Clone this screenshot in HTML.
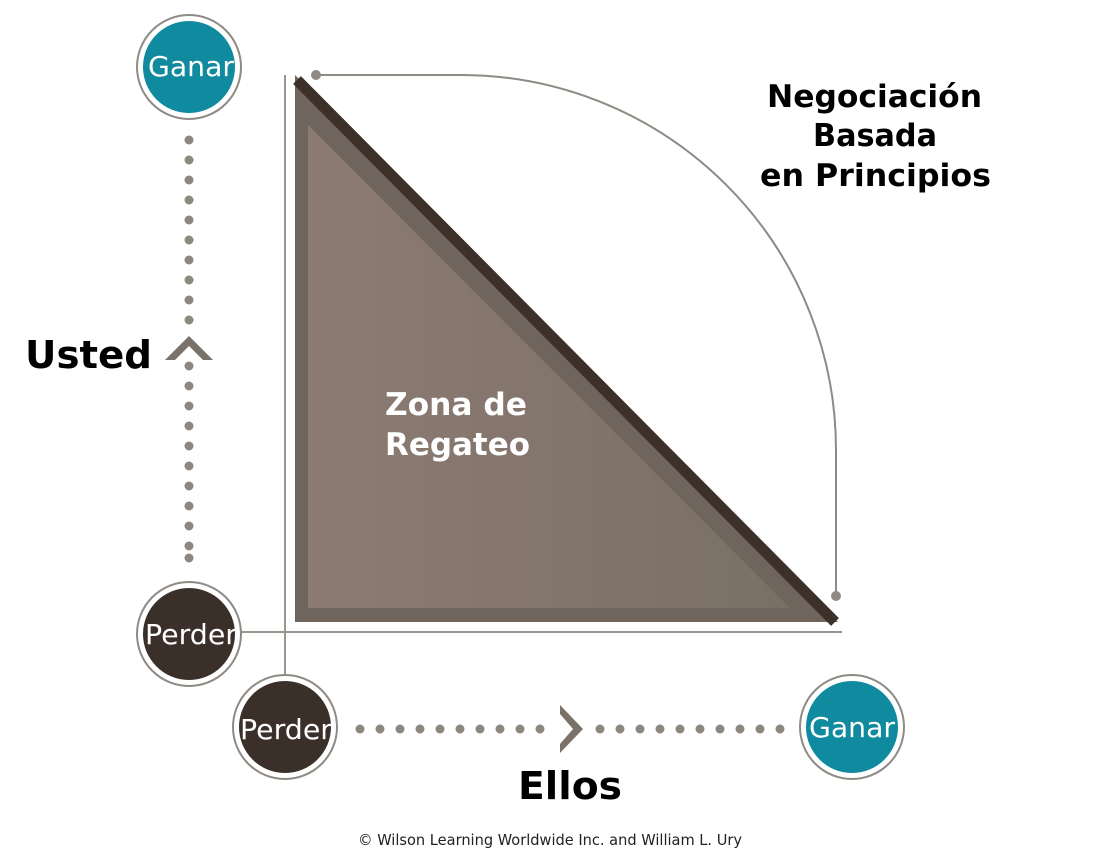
<!DOCTYPE html>
<html><head><meta charset="utf-8"><style>html,body{margin:0;padding:0;background:#fff}svg{display:block}</style></head>
<body>
<svg width="1106" height="862" viewBox="0 0 1106 862" xmlns="http://www.w3.org/2000/svg">
<defs>
<linearGradient id="g" x1="0" y1="0" x2="1" y2="0">
<stop offset="0" stop-color="#8c7b72"/><stop offset="1" stop-color="#7a7066"/>
</linearGradient>
</defs>
<line x1="285" y1="75" x2="285" y2="680" stroke="#9a958f" stroke-width="2"/>
<line x1="238" y1="632" x2="842" y2="632" stroke="#9a958f" stroke-width="2"/>
<path d="M316 75 H461 A375 375 0 0 1 836 450 V596" fill="none" stroke="#8f8a84" stroke-width="2"/>
<circle cx="316" cy="75" r="5" fill="#8f8a84"/>
<circle cx="836" cy="596" r="5" fill="#8f8a84"/>
<polygon points="295,75 295,622 838,622" fill="#6f655d"/>
<polygon points="308,125 308,608 790,608" fill="url(#g)"/>
<line x1="297" y1="80" x2="835" y2="622" stroke="#3d3028" stroke-width="11"/>
<g font-family="DejaVu Sans, Verdana, sans-serif" font-weight="bold" font-size="31" fill="#fff">
<text x="385" y="415" textLength="142" lengthAdjust="spacingAndGlyphs">Zona de</text>
<text x="385" y="455" textLength="145" lengthAdjust="spacingAndGlyphs">Regateo</text>
</g>
<g fill="#8d877f">
<circle cx="189" cy="140" r="4.5"/><circle cx="189" cy="160" r="4.5"/><circle cx="189" cy="180" r="4.5"/><circle cx="189" cy="200" r="4.5"/><circle cx="189" cy="220" r="4.5"/><circle cx="189" cy="240" r="4.5"/><circle cx="189" cy="260" r="4.5"/><circle cx="189" cy="280" r="4.5"/><circle cx="189" cy="300" r="4.5"/><circle cx="189" cy="320" r="4.5"/>
<circle cx="189" cy="366" r="4.5"/><circle cx="189" cy="386" r="4.5"/><circle cx="189" cy="406" r="4.5"/><circle cx="189" cy="426" r="4.5"/><circle cx="189" cy="446" r="4.5"/><circle cx="189" cy="466" r="4.5"/><circle cx="189" cy="486" r="4.5"/><circle cx="189" cy="506" r="4.5"/><circle cx="189" cy="526" r="4.5"/><circle cx="189" cy="546" r="4.5"/><circle cx="189" cy="558" r="4.5"/>
</g>
<polygon points="165,360 189,336 213,360 203,360 189,346 175,360" fill="#7a7169"/>
<g fill="#8d877f">
<circle cx="360" cy="729" r="4.5"/><circle cx="380" cy="729" r="4.5"/><circle cx="400" cy="729" r="4.5"/><circle cx="420" cy="729" r="4.5"/><circle cx="440" cy="729" r="4.5"/><circle cx="460" cy="729" r="4.5"/><circle cx="480" cy="729" r="4.5"/><circle cx="500" cy="729" r="4.5"/><circle cx="520" cy="729" r="4.5"/><circle cx="540" cy="729" r="4.5"/>
<circle cx="600" cy="729" r="4.5"/><circle cx="620" cy="729" r="4.5"/><circle cx="640" cy="729" r="4.5"/><circle cx="660" cy="729" r="4.5"/><circle cx="680" cy="729" r="4.5"/><circle cx="700" cy="729" r="4.5"/><circle cx="720" cy="729" r="4.5"/><circle cx="740" cy="729" r="4.5"/><circle cx="760" cy="729" r="4.5"/><circle cx="780" cy="729" r="4.5"/>
</g>
<polygon points="560,705 583,729 560,753 560,744 573,729 560,714" fill="#7a7169"/>
<g font-family="DejaVu Sans, Verdana, sans-serif" font-size="28" fill="#fff">
<circle cx="189" cy="67" r="52" fill="#fff" stroke="#8f8a84" stroke-width="2"/>
<circle cx="189" cy="67" r="46" fill="#0f8a9e"/>
<text x="148" y="76" textLength="86" lengthAdjust="spacingAndGlyphs">Ganar</text>
<circle cx="189" cy="634" r="52" fill="#fff" stroke="#8f8a84" stroke-width="2"/>
<circle cx="189" cy="634" r="46" fill="#3b3029"/>
<text x="145" y="644" textLength="92" lengthAdjust="spacingAndGlyphs">Perder</text>
<circle cx="285" cy="727" r="52" fill="#fff" stroke="#8f8a84" stroke-width="2"/>
<circle cx="285" cy="727" r="46" fill="#3b3029"/>
<text x="240" y="739" textLength="92" lengthAdjust="spacingAndGlyphs">Perder</text>
<circle cx="852" cy="727" r="52" fill="#fff" stroke="#8f8a84" stroke-width="2"/>
<circle cx="852" cy="727" r="46" fill="#0f8a9e"/>
<text x="809" y="737" textLength="86" lengthAdjust="spacingAndGlyphs">Ganar</text>
</g>
<g font-family="DejaVu Sans, Verdana, sans-serif" font-weight="bold" fill="#000">
<text x="25" y="368" font-size="38" textLength="127" lengthAdjust="spacingAndGlyphs">Usted</text>
<text x="518" y="799" font-size="38" textLength="104" lengthAdjust="spacingAndGlyphs">Ellos</text>
<text x="767" y="107" font-size="31" textLength="215" lengthAdjust="spacingAndGlyphs">Negociación</text>
<text x="813" y="146" font-size="31" textLength="124" lengthAdjust="spacingAndGlyphs">Basada</text>
<text x="760" y="186" font-size="31" textLength="231" lengthAdjust="spacingAndGlyphs">en Principios</text>
</g>
<text x="358" y="845" font-family="DejaVu Sans, Verdana, sans-serif" font-size="15" fill="#222" textLength="384" lengthAdjust="spacingAndGlyphs">© Wilson Learning Worldwide Inc. and William L. Ury</text>
</svg>
</body></html>
